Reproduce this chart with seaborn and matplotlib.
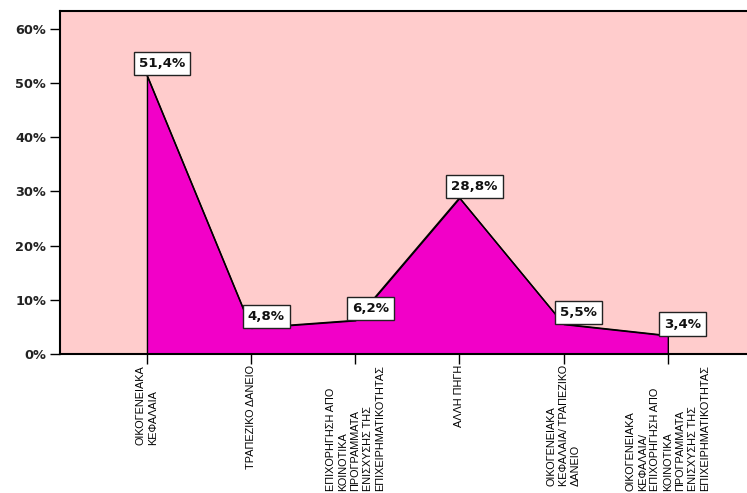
import matplotlib
matplotlib.use("Agg")
import matplotlib.pyplot as plt
import seaborn as sns
import pandas as pd
from matplotlib.ticker import FuncFormatter

categories = [
    "ΟΙΚΟΓΕΝΕΙΑΚΑ\nΚΕΦΑΛΑΙΑ",
    "ΤΡΑΠΕΖΙΚΟ ΔΑΝΕΙΟ",
    "ΕΠΙΧΟΡΗΓΗΣΗ ΑΠΟ\nΚΟΙΝΟΤΙΚΑ\nΠΡΟΓΡΑΜΜΑΤΑ\nΕΝΙΣΧΥΣΗΣ ΤΗΣ\nΕΠΙΧΕΙΡΗΜΑΤΙΚΟΤΗΤΑΣ",
    "ΑΛΛΗ ΠΗΓΗ",
    "ΟΙΚΟΓΕΝΕΙΑΚΑ\nΚΕΦΑΛΑΙΑ/ ΤΡΑΠΕΖΙΚΟ\nΔΑΝΕΙΟ",
    "ΟΙΚΟΓΕΝΕΙΑΚΑ\nΚΕΦΑΛΑΙΑ/\nΕΠΙΧΟΡΗΓΗΣΗ ΑΠΟ\nΚΟΙΝΟΤΙΚΑ\nΠΡΟΓΡΑΜΜΑΤΑ\nΕΝΙΣΧΥΣΗΣ ΤΗΣ\nΕΠΙΧΕΙΡΗΜΑΤΙΚΟΤΗΤΑΣ",
]
percent = [51.4, 4.8, 6.2, 28.8, 5.5, 3.4]
value_labels = ["51,4%", "4,8%", "6,2%", "28,8%", "5,5%", "3,4%"]

df = pd.DataFrame({"pos": range(len(categories)), "pct": percent})

sns.set_style("white")
plt.rcParams["font.family"] = ["DejaVu Sans"]

fig = plt.figure(figsize=(7.47, 4.93), dpi=100)
ax = fig.add_axes([0.0803, 0.282, 0.9197, 0.696])
ax.set_facecolor("#FFCCCC")

ax.fill_between(df["pos"], df["pct"], 0, color="#F200C8", edgecolor="black",
                linewidth=1.0, zorder=2)
sns.lineplot(data=df, x="pos", y="pct", color="black", linewidth=1.0, ax=ax, zorder=3)

# value boxes sit just above each point, shifted a bit right
for x, y, lab in zip(df["pos"], df["pct"], value_labels):
    ax.annotate(lab, (x, y), xytext=(10.8, 3.6), textcoords="offset points",
                ha="center", va="bottom", fontsize=9.6, fontweight="bold",
                color="#111111", zorder=5,
                bbox=dict(boxstyle="square,pad=0.38", fc="white", ec="#222222", lw=1.0))

ax.set_xlim(-0.835, 5.76)
ax.set_ylim(0, 63.3)
ax.set_yticks([0, 10, 20, 30, 40, 50, 60])
ax.yaxis.set_major_formatter(FuncFormatter(lambda v, p: f"{int(v)}%"))
ax.set_xticks(range(len(categories)))
ax.set_xticklabels(categories, rotation=90, ha="center", va="top",
                   multialignment="left", fontsize=7.8, family="Liberation Sans",
                   linespacing=1.3, color="black")
for lab in ax.get_yticklabels():
    lab.set_fontweight("bold")
    lab.set_fontsize(9.3)
    lab.set_color("#222222")

ax.tick_params(axis="y", direction="out", length=7, width=1.0, color="black", pad=3, left=True)
ax.tick_params(axis="x", direction="out", length=7, width=1.0, color="black", pad=1, bottom=True)
ax.set_xlabel("")
ax.set_ylabel("")

for side in ["left", "top", "bottom"]:
    ax.spines[side].set_visible(True)
    ax.spines[side].set_color("black")
    ax.spines[side].set_linewidth(1.5)
ax.spines["right"].set_visible(False)

fig.savefig("out.png", dpi=100, facecolor="white")
